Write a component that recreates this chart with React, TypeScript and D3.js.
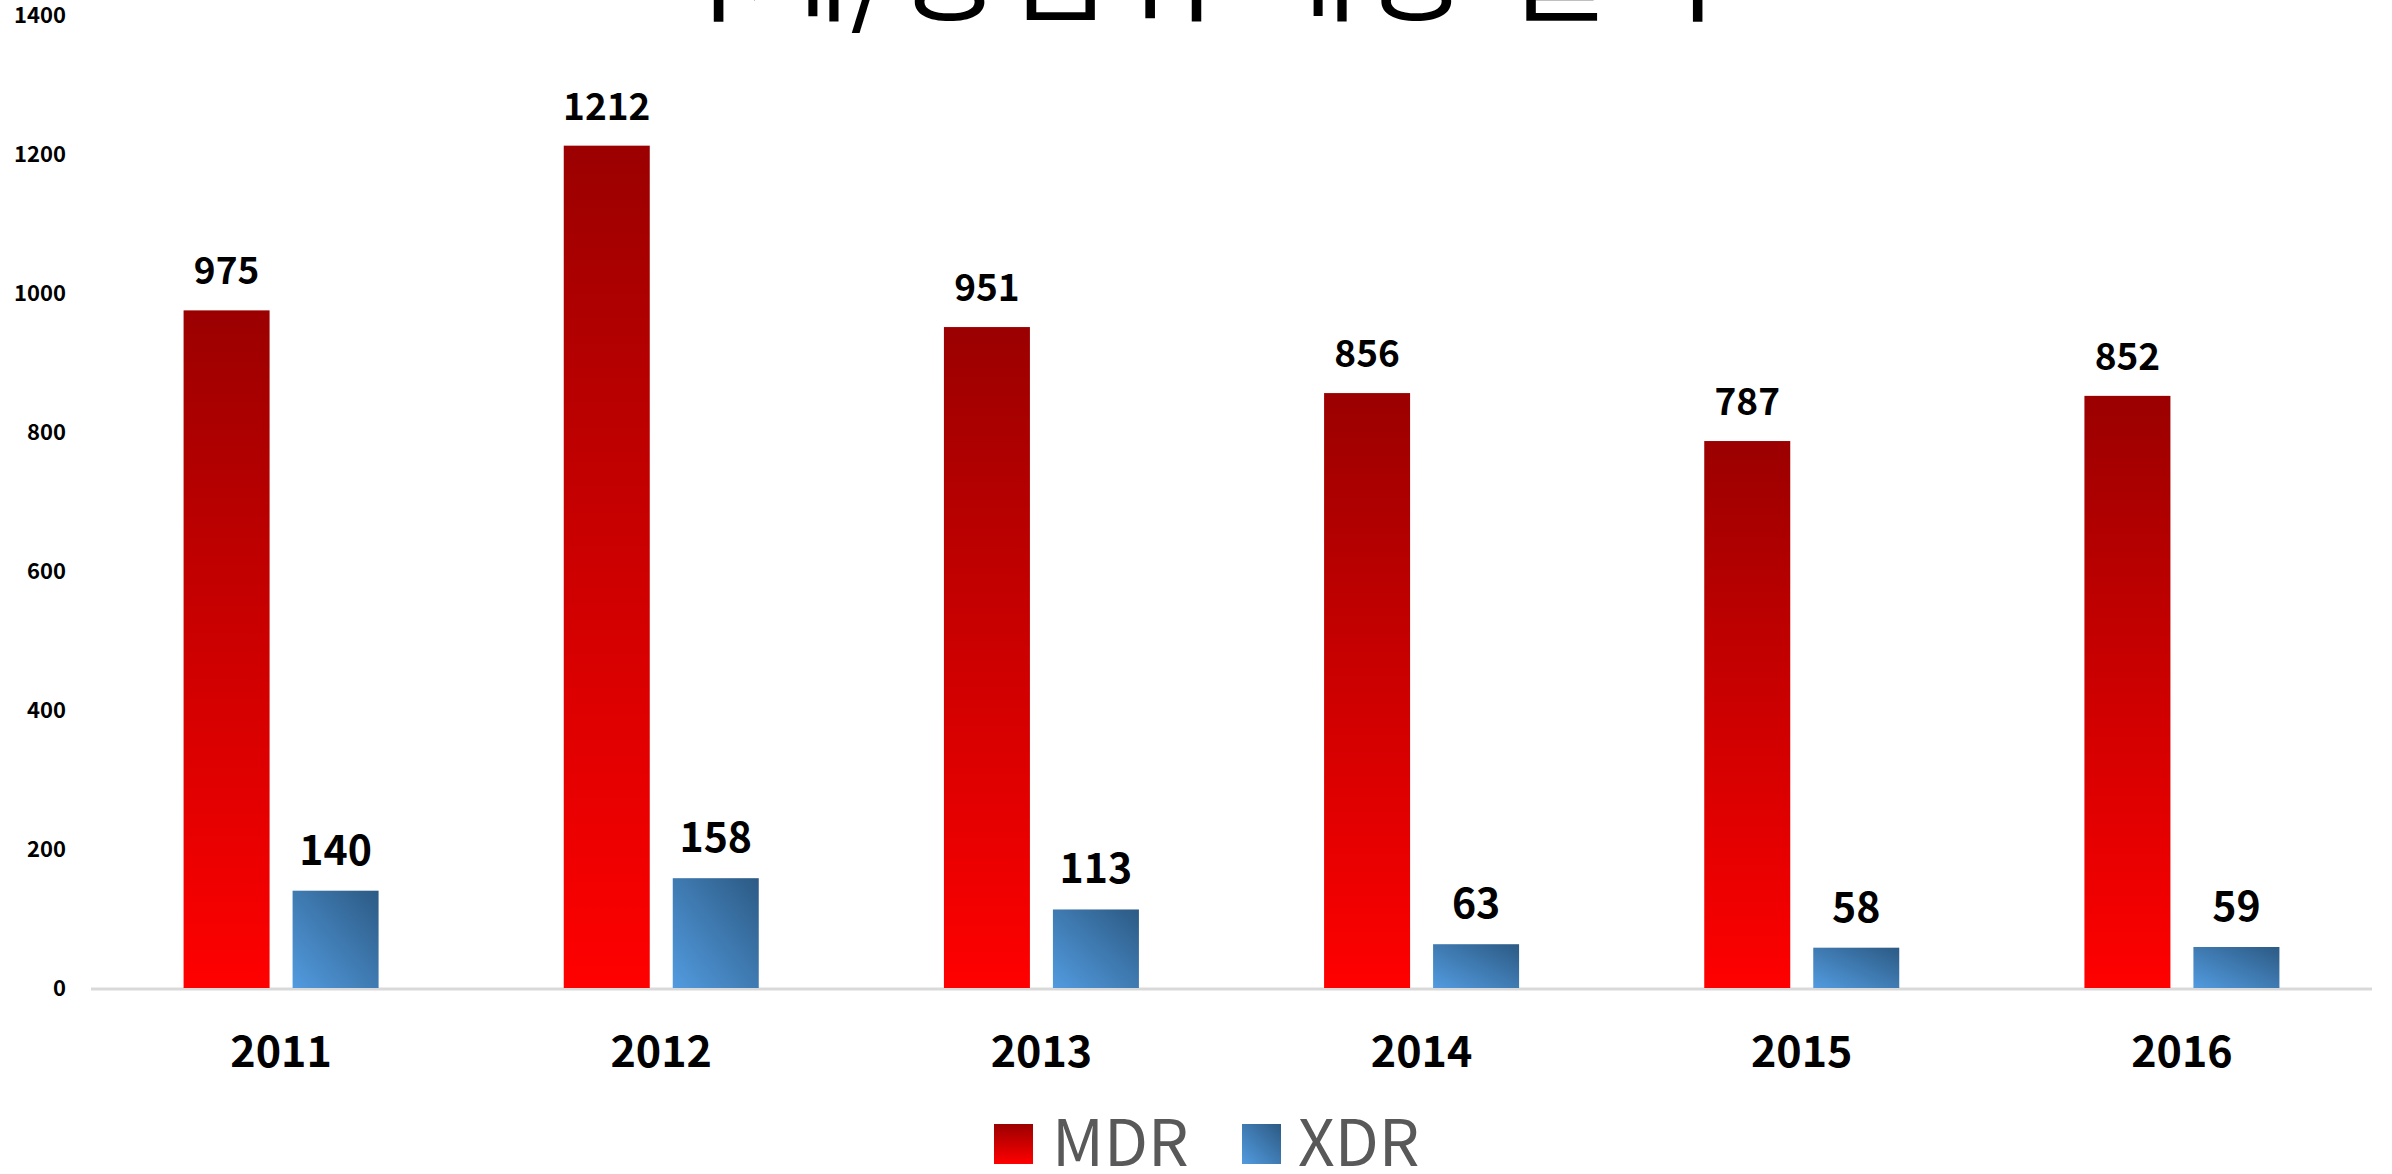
import React from "react";
import * as d3 from "d3";

const years = ["2011", "2012", "2013", "2014", "2015", "2016"];
const seriesNames = ["MDR", "XDR"];
const mdrValues = [975, 1212, 951, 856, 787, 852];
const xdrValues = [140, 158, 113, 63, 58, 59];
const yTicks = [0, 200, 400, 600, 800, 1000, 1200, 1400];
const titleText = "다제/광범위 내성 결핵";

const W = 2392;
const H = 1174;
const FONT = "'Noto Sans CJK KR', 'Noto Sans', sans-serif";

export default function App() {
  const x0 = d3.scaleBand<string>().domain(years).range([91, 2372]).padding(0);
  const step = x0.bandwidth();
  const x1 = d3
    .scaleBand<string>()
    .domain(seriesNames)
    .range([(step - 195) / 2, (step + 195) / 2])
    .paddingInner(0.211)
    .paddingOuter(0);
  const y = d3.scaleLinear().domain([0, 1400]).range([988, 15]);

  const series = [
    { name: "MDR", values: mdrValues, fill: "url(#gradMDR)", labelSize: 37 },
    { name: "XDR", values: xdrValues, fill: "url(#gradXDR)", labelSize: 41 },
  ];

  return (
    <div style={{ position: "fixed", left: 0, top: 0 }}>
      <svg width={W} height={H} style={{ display: "block", background: "#fff" }}>
        <defs>
          <linearGradient id="gradMDR" x1="0" y1="0" x2="0" y2="1">
            <stop offset="0" stopColor="#9b0000" />
            <stop offset="1" stopColor="#ff0000" />
          </linearGradient>
          <linearGradient id="gradXDR" x1="0" y1="1" x2="1" y2="0">
            <stop offset="0" stopColor="#529bdf" />
            <stop offset="1" stopColor="#2c5a84" />
          </linearGradient>
        </defs>

        <text
          x={1176}
          y={12}
          textAnchor="middle"
          fontFamily={FONT}
          fontWeight={400}
          fontSize={116}
          wordSpacing={10}
          fill="#000"
        >
          {titleText}
        </text>

        {yTicks.map((t) => (
          <text
            key={t}
            x={66}
            y={y(t)}
            dy="0.35em"
            textAnchor="end"
            fontFamily={FONT}
            fontWeight={700}
            fontSize={22}
            fill="#000"
          >
            {t}
          </text>
        ))}

        <line x1={91} x2={2372} y1={y(0) + 1} y2={y(0) + 1} stroke="#d9d9d9" strokeWidth={3} />

        {years.map((yr, i) => (
          <g key={yr} transform={`translate(${x0(yr)},0)`}>
            {series.map((s) => {
              const v = s.values[i];
              const bx = x1(s.name)!;
              const bw = x1.bandwidth();
              return (
                <g key={s.name}>
                  <rect x={bx} y={y(v)} width={bw} height={y(0) - y(v)} fill={s.fill} />
                  <text
                    x={bx + bw / 2}
                    y={y(v) - 26}
                    textAnchor="middle"
                    fontFamily={FONT}
                    fontWeight={700}
                    fontSize={s.labelSize}
                    fill="#000"
                  >
                    {v}
                  </text>
                </g>
              );
            })}
            <text
              x={step / 2}
              y={1067}
              textAnchor="middle"
              fontFamily={FONT}
              fontWeight={700}
              fontSize={43}
              fill="#000"
            >
              {yr}
            </text>
          </g>
        ))}

        <g>
          <rect x={994} y={1124} width={39} height={40} fill="url(#gradMDR)" />
          <text x={1052} y={1166} fontFamily={FONT} fontSize={64} fill="#595959">
            {seriesNames[0]}
          </text>
          <rect x={1242} y={1124} width={39} height={40} fill="url(#gradXDR)" />
          <text x={1298} y={1166} fontFamily={FONT} fontSize={64} fill="#595959">
            {seriesNames[1]}
          </text>
        </g>
      </svg>
    </div>
  );
}
